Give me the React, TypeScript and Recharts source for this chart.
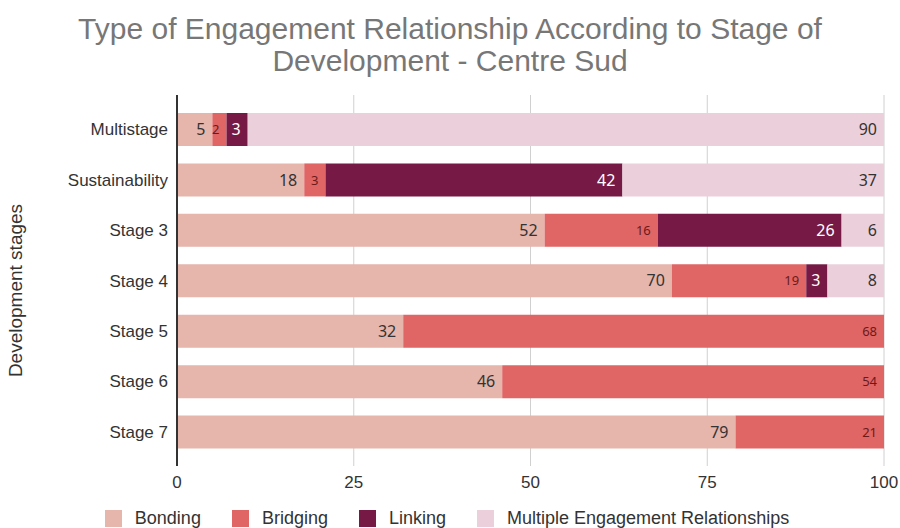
import { BarChart, Bar, XAxis, YAxis, CartesianGrid, Legend, LabelList } from 'recharts';

const stages = ['Multistage', 'Sustainability', 'Stage 3', 'Stage 4', 'Stage 5', 'Stage 6', 'Stage 7'];
const bonding = [5, 18, 52, 70, 32, 46, 79];
const bridging = [2, 3, 16, 19, 68, 54, 21];
const linking = [3, 42, 26, 3, 0, 0, 0];
const multiple = [90, 37, 6, 8, 0, 0, 0];
const xTicks = [0, 25, 50, 75, 100];

const seriesInfo = [
  { key: 'bonding', name: 'Bonding', color: '#e6b5ac', label: '#333333', size: 16 },
  { key: 'bridging', name: 'Bridging', color: '#e06565', label: '#6b1a1a', size: 13 },
  { key: 'linking', name: 'Linking', color: '#761a45', label: '#ffffff', size: 16 },
  { key: 'multiple', name: 'Multiple Engagement Relationships', color: '#ebd0dc', label: '#333333', size: 16 },
];

const data = stages.map((s, i) => ({
  stage: s,
  bonding: bonding[i],
  bridging: bridging[i],
  linking: linking[i],
  multiple: multiple[i],
}));

const font = '"Liberation Sans", Arial, sans-serif';

function LegendBox() {
  return (
    <div style={{ display: 'flex', justifyContent: 'center', gap: 31, fontFamily: font, fontSize: 18, lineHeight: '20px', color: '#333', paddingLeft: 10 }}>
      {seriesInfo.map(s => (
        <div key={s.key} style={{ display: 'flex', alignItems: 'center' }}>
          <span style={{ width: 17, height: 17, background: s.color, display: 'inline-block', marginRight: 13 }} />
          <span>{s.name}</span>
        </div>
      ))}
    </div>
  );
}

export default function App() {
  return (
    <div style={{ position: 'absolute', left: 0, top: 0, width: 900, height: 528, background: '#fff' }}>
      <div style={{ position: 'absolute', top: 13, width: 900, textAlign: 'center', fontFamily: font, fontSize: 30, lineHeight: '32px', color: '#777' }}>
        Type of Engagement Relationship According to Stage of<br />Development - Centre Sud
      </div>
      <BarChart width={900} height={528} data={data} layout="vertical" barSize={33}
        margin={{ top: 95, right: 16, bottom: 10, left: 0 }}>
        <CartesianGrid horizontal={false} stroke="#d0d0d0" />
        <XAxis type="number" domain={[0, 100]} ticks={xTicks} axisLine={false} tickLine={false}
          height={32} tickMargin={4} tick={{ fill: '#333', fontSize: 17, fontFamily: font }} />
        <YAxis type="category" dataKey="stage" width={177} tickLine={false} axisLine={{ stroke: '#333', strokeWidth: 2 }}
          padding={{ top: 9, bottom: 9 }} tickMargin={3}
          tick={{ fill: '#333', fontSize: 17, fontFamily: font }}
          label={{ value: 'Development stages', angle: -90, position: 'insideLeft', dx: 10, dy: 10, style: { fill: '#333', fontSize: 19, fontFamily: font, textAnchor: 'middle' } }} />
        <Legend verticalAlign="bottom" wrapperStyle={{ bottom: 0 }} content={() => <LegendBox />} />
        {seriesInfo.map(s => (
          <Bar key={s.key} dataKey={s.key} name={s.name} stackId="a" fill={s.color} isAnimationActive={false}>
            <LabelList dataKey={s.key} position="insideRight" offset={7}
              formatter={(v: number) => (v > 0 ? v : '')}
              style={{ fill: s.label, fontSize: s.size, fontFamily: '"Noto Sans", sans-serif' }} />
          </Bar>
        ))}
      </BarChart>
    </div>
  );
}
